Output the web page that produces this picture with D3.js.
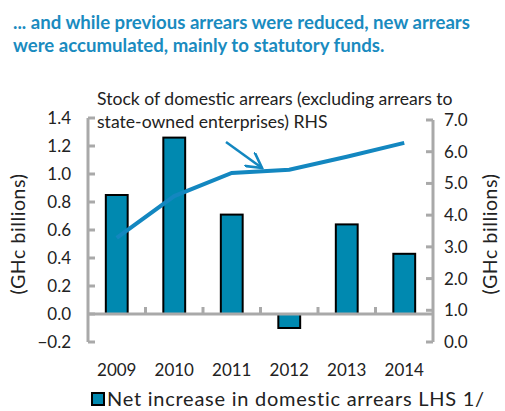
<!DOCTYPE html>
<html>
<head>
<meta charset="utf-8">
<script src="https://cdn.jsdelivr.net/npm/d3@7"></script>
<style>
  body { margin: 0; background: #fff; }
  svg { font-family: Lato, "Open Sans", sans-serif; }
</style>
</head>
<body>
<div id="chart"></div>
<script>
// data
var years = ["2009", "2010", "2011", "2012", "2013", "2014"];
var netIncrease = [0.85, 1.26, 0.71, -0.1, 0.64, 0.43];   // LHS bars
var stockArrears = [3.28, 4.6, 5.33, 5.43, 5.84, 6.28];   // RHS line
var leftTicks = [-0.2, 0, 0.2, 0.4, 0.6, 0.8, 1.0, 1.2, 1.4];
var rightTicks = [0, 1, 2, 3, 4, 5, 6, 7];

var blue = "#0089b0";
var lineBlue = "#1387c0";
var grey = "#a9a9a9";

var width = 505, height = 411;
var svg = d3.select("#chart").append("svg")
  .attr("width", width).attr("height", height);

var x0 = 88, x1 = 433;

var x = d3.scaleBand().domain(years).range([x0, x1]);
var yL = d3.scaleLinear().domain([-0.2, 1.4]).range([342, 118]);
var yR = d3.scaleLinear().domain([0, 7]).range([342, 120]);

// title
var title = svg.append("g").attr("fill", "#1a8bbf")
  .attr("font-weight", "bold").attr("font-size", 18.6);
title.append("text").attr("x", 13).attr("y", 29)
  .text("... and while previous arrears were reduced, new arrears");
title.append("text").attr("x", 13).attr("y", 52)
  .text("were accumulated, mainly to statutory funds.");

// bars
svg.append("g").selectAll("rect")
  .data(netIncrease)
  .enter().append("rect")
  .attr("x", function(d, i) { return x(years[i]) + x.bandwidth() * 0.31; })
  .attr("width", x.bandwidth() * 0.38)
  .attr("y", function(d) { return yL(Math.max(d, 0)); })
  .attr("height", function(d) { return Math.abs(yL(d) - yL(0)); })
  .attr("fill", blue)
  .attr("stroke", "#000")
  .attr("stroke-width", 2);

// axes
var axes = svg.append("g").attr("stroke", grey).attr("stroke-width", 3).attr("fill", "none");
axes.append("line").attr("x1", x0).attr("x2", x0).attr("y1", yL(1.4)).attr("y2", yL(-0.2));
leftTicks.forEach(function(t) {
  axes.append("line").attr("x1", x0).attr("x2", x0 + 7).attr("y1", yL(t)).attr("y2", yL(t));
});
axes.append("line").attr("x1", x1).attr("x2", x1).attr("y1", yR(7)).attr("y2", yR(0));
rightTicks.forEach(function(t) {
  axes.append("line").attr("x1", x1).attr("x2", x1 - 7).attr("y1", yR(t)).attr("y2", yR(t));
});
// zero line with category separators
axes.append("line").attr("x1", x0).attr("x2", x1).attr("y1", yL(0)).attr("y2", yL(0));
years.slice(1).forEach(function(y) {
  axes.append("line").attr("x1", x(y)).attr("x2", x(y)).attr("y1", yL(0)).attr("y2", yL(0) - 7);
});

// tick labels
var lab = svg.append("g").attr("font-size", 17).attr("fill", "#222");
leftTicks.forEach(function(t) {
  lab.append("text").attr("x", 71).attr("y", yL(t) + 6)
    .attr("text-anchor", "end").text(d3.format(".1f")(t));
});
rightTicks.forEach(function(t) {
  lab.append("text").attr("x", 444).attr("y", yR(t) + 6)
    .text(d3.format(".1f")(t));
});
years.forEach(function(y) {
  lab.append("text").attr("x", x(y) + x.bandwidth() / 2).attr("y", 376)
    .attr("text-anchor", "middle").text(y);
});

// axis titles
var axTitle = svg.append("g").attr("font-size", 19.5).attr("fill", "#222").attr("letter-spacing", 0.6);
axTitle.append("text").attr("transform", "translate(25,234) rotate(-90)")
  .attr("text-anchor", "middle").text("(GHc billions)");
axTitle.append("text").attr("transform", "translate(497,234) rotate(-90)")
  .attr("text-anchor", "middle").text("(GHc billions)");

// line
var line = d3.line()
  .x(function(d, i) { return x(years[i]) + x.bandwidth() / 2; })
  .y(function(d) { return yR(d); });
svg.append("path").datum(stockArrears)
  .attr("fill", "none").attr("stroke", lineBlue)
  .attr("stroke-width", 4).attr("d", line);

// annotation
var ann = svg.append("g").attr("font-size", 17.6).attr("fill", "#222")
  .style("white-space", "pre");
ann.append("text").attr("x", 97).attr("y", 105)
  .text("Stock of domestic arrears (excluding arrears to");
ann.append("text").attr("x", 97).attr("y", 128)
  .text("state-owned enterprises)  RHS");

svg.append("defs").append("marker")
  .attr("id", "arrow").attr("viewBox", "0 0 10 10")
  .attr("refX", 9).attr("refY", 5)
  .attr("markerWidth", 7).attr("markerHeight", 7)
  .attr("orient", "auto")
  .append("path").attr("d", "M0,0 L9,5 L0,10")
  .attr("fill", "none").attr("stroke", lineBlue).attr("stroke-width", 1.5);

svg.append("line")
  .attr("x1", 226).attr("y1", 142).attr("x2", 262).attr("y2", 168)
  .attr("stroke", lineBlue).attr("stroke-width", 2.5)
  .attr("marker-end", "url(#arrow)");

// legend
svg.append("rect").attr("x", 92).attr("y", 393).attr("width", 12).attr("height", 12)
  .attr("fill", blue).attr("stroke", "#000").attr("stroke-width", 2);
svg.append("text").attr("x", 107).attr("y", 406).attr("font-size", 20).attr("fill", "#222")
  .attr("letter-spacing", 0.75)
  .text("Net increase in domestic arrears LHS 1/");
</script>
</body>
</html>
